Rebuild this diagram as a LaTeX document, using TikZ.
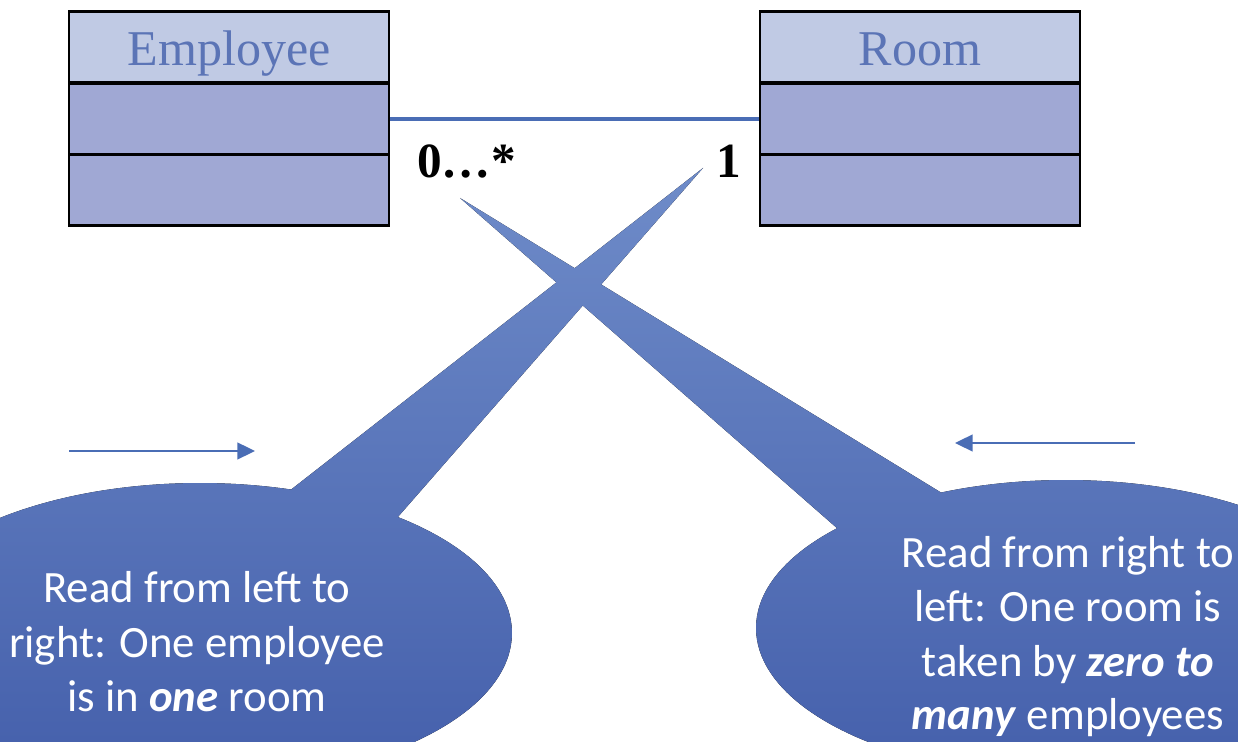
\documentclass[tikz,border=0pt]{standalone}
\usepackage{fontspec}
\setmainfont{Liberation Serif}
\newfontfamily\calfont{Carlito}
\usetikzlibrary{arrows.meta}
\definecolor{hdrfill}{HTML}{C0CAE4}
\definecolor{cmpfill}{HTML}{A0A8D4}
\definecolor{hdrtext}{HTML}{5B74B6}
\definecolor{assoc}{HTML}{4A6DB5}
\definecolor{calltop}{HTML}{6F8CC9}
\definecolor{callbot}{HTML}{4762AD}
\tikzset{
  hdr/.style={draw=black, line width=1.6pt, fill=hdrfill, minimum width=6.4cm, minimum height=1.43cm, inner sep=0pt, text=hdrtext, text height=0.8cm, text depth=0.04cm, font=\fontsize{28.5}{30}\selectfont},
  cmp/.style={draw=black, line width=1.6pt, fill=cmpfill, minimum width=6.4cm, minimum height=1.43cm, inner sep=0pt},
  assocline/.style={draw=assoc, line width=2.3pt},
  mult/.style={inner sep=0pt, anchor=base west, font=\fontsize{28}{30}\selectfont\bfseries},
  ctext/.style={inner sep=0pt, anchor=base, text=white, font=\calfont\fontsize{25.5}{30}\selectfont},
  readarrow/.style={draw=assoc, line width=1.1pt, -{Triangle[length=10pt,width=9.5pt]}},
  callshade/.style={top color=calltop, bottom color=callbot}
}
\begin{document}
\begin{tikzpicture}[x=0.02cm, y=-0.02cm]
\useasboundingbox (0,0) rectangle (1238,742);
\clip (0,0) rectangle (1238,742);
% both callouts as one union (all sub-paths counterclockwise), shaded once
\begin{scope}
  \clip (200,633) ellipse [x radius=6.24cm, y radius=3cm]
        (703,168) -- (288,492) -- (300,600) -- (397,518) -- cycle
        (1066,628) ellipse [x radius=6.2cm, y radius=2.96cm]
        (460,198) -- (838,529) -- (900,600) -- (945,495) -- cycle;
  \fill[callshade] (0,160) rectangle (1238,742);
\end{scope}
% class boxes
\node[hdr] (emph) at (229,47) {Employee};
\node[cmp] (emp1) at (229,119) {};
\node[cmp] (emp2) at (229,190) {};
\node[hdr] (roomh) at (920,47) {Room};
\node[cmp] (room1) at (920,119) {};
\node[cmp] (room2) at (920,190) {};
\draw[assocline] (emp1.east) -- (room1.west);
% multiplicities
\node[mult] (mmany) at (417,178) {0…*};
\node[mult] (mone) at (716,178) {1};
% reading direction arrows
\coordinate (la1) at (69,451);
\coordinate (la2) at (255,451);
\coordinate (ra1) at (1135,443);
\coordinate (ra2) at (955,443);
\draw[readarrow] (la1) -- (la2);
\draw[readarrow] (ra1) -- (ra2);
% callout texts
\node[ctext] (l1) at (197,603) {Read from left to};
\node[ctext] (l2) at (197,658) {right: One employee};
\node[ctext] (l3) at (197,712) {is in \textbf{\textit{one}} room};
\node[ctext] (r1) at (1068,568) {Read from right to};
\node[ctext] (r2) at (1068,622) {left: One room is};
\node[ctext] (r3) at (1068,677) {taken by \textbf{\textit{zero to}}};
\node[ctext] (r4) at (1068,730) {\textbf{\textit{many}} employees};
\end{tikzpicture}
\end{document}
